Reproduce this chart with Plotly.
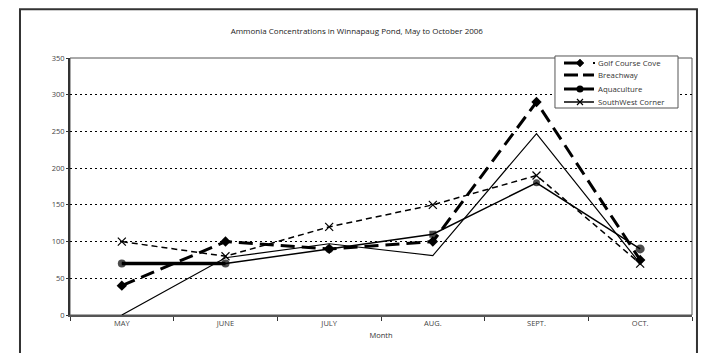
import plotly.graph_objects as go

months = ["MAY", "JUNE", "JULY", "AUG.", "SEPT.", "OCT."]
golf_course_cove = [40, 100, 90, 100, 290, 75]
breachway = [0, 78, 97, 81, 247, 70]
aquaculture = [70, 70, 90, 110, 180, 90]
southwest_corner = [100, 80, 120, 150, 190, 70]
y_ticks = [0, 50, 100, 150, 200, 250, 300, 350]
legend_names = ["Golf Course Cove", "Breachway", "Aquaculture", "SouthWest Corner"]

FONT = "Open Sans, Liberation Sans, Arial"
fig = go.Figure()

# chart traces
fig.add_trace(go.Scatter(x=months, y=southwest_corner, mode="lines+markers",
                         line=dict(color="black", width=1.5, dash="6px,4px"),
                         marker=dict(symbol="x-thin", size=8, line=dict(width=1.2, color="black")),
                         showlegend=False, cliponaxis=False))
fig.add_trace(go.Scatter(x=months, y=breachway, mode="lines",
                         line=dict(color="black", width=1.2),
                         showlegend=False, cliponaxis=False))
fig.add_trace(go.Scatter(x=months[:2], y=aquaculture[:2], mode="lines",
                         line=dict(color="black", width=3.5),
                         showlegend=False, cliponaxis=False))
fig.add_trace(go.Scatter(x=months, y=aquaculture, mode="lines+markers",
                         line=dict(color="black", width=1.5),
                         marker=dict(symbol=["circle", "circle", "circle", "square", "circle", "circle"],
                                     size=[8, 8, 8, 7, 7, 9], color="black",
                                     line=dict(width=0)),
                         showlegend=False, cliponaxis=False))
fig.add_trace(go.Scatter(x=months, y=golf_course_cove, mode="lines+markers",
                         line=dict(color="black", width=3, dash="14px,7px"),
                         marker=dict(symbol="diamond", size=8, color="black"),
                         showlegend=False, cliponaxis=False))

# frames (body has 8px default margin; geometry compensates)
fig.add_shape(type="rect", xref="paper", yref="paper", x0=-0.0804, x1=1.008, y0=-0.3, y1=1.19,
              line=dict(color="#333333", width=2), layer="below")
fig.add_shape(type="rect", xref="paper", yref="paper", x0=0, x1=1, y0=0, y1=1,
              line=dict(color="#555555", width=1), layer="below")

# manual legend
fig.add_shape(type="rect", xref="paper", yref="paper", x0=0.7797, x1=0.9775, y0=0.8054, y1=1.0078,
              line=dict(color="#555555", width=1), fillcolor="white", layer="above")
ly = [0.9805, 0.9339, 0.8794, 0.8288]
gx0, gx1, gm = 0.7942, 0.8424, 0.8199
# Golf Course Cove: thick line + diamond
fig.add_shape(type="line", xref="paper", yref="paper", x0=gx0, x1=gm, y0=ly[0], y1=ly[0],
              line=dict(color="black", width=3))
fig.add_shape(type="path", xref="paper", yref="paper", xsizemode="pixel", ysizemode="pixel",
              xanchor=gm, yanchor=ly[0], path="M0,4L4,0L0,-4L-4,0Z",
              fillcolor="black", line=dict(color="black", width=0.5))
fig.add_shape(type="rect", xref="paper", yref="paper", xsizemode="pixel", ysizemode="pixel",
              xanchor=0.8424, yanchor=ly[0], x0=-1, x1=1, y0=-1, y1=1,
              fillcolor="black", line=dict(color="black", width=0))
# Breachway: thick long dashes
fig.add_shape(type="line", xref="paper", yref="paper", x0=gx0, x1=0.8167, y0=ly[1], y1=ly[1],
              line=dict(color="black", width=3))
fig.add_shape(type="line", xref="paper", yref="paper", x0=0.8248, x1=gx1, y0=ly[1], y1=ly[1],
              line=dict(color="black", width=3))
# Aquaculture: thick line + circle
fig.add_shape(type="line", xref="paper", yref="paper", x0=gx0, x1=gx1, y0=ly[2], y1=ly[2],
              line=dict(color="black", width=3))
fig.add_shape(type="circle", xref="paper", yref="paper", xsizemode="pixel", ysizemode="pixel",
              xanchor=gm, yanchor=ly[2], x0=-3.5, x1=3.5, y0=-3.5, y1=3.5,
              fillcolor="black", line=dict(color="black", width=0))
# SouthWest Corner: thin line + x
fig.add_shape(type="line", xref="paper", yref="paper", x0=gx0, x1=gx1, y0=ly[3], y1=ly[3],
              line=dict(color="black", width=1.5))
fig.add_shape(type="path", xref="paper", yref="paper", xsizemode="pixel", ysizemode="pixel",
              xanchor=gm, yanchor=ly[3], path="M-3,-3L3,3M-3,3L3,-3",
              line=dict(color="black", width=1.2))
for name, yy in zip(legend_names, ly):
    fig.add_annotation(x=0.8457, y=yy, xref="paper", yref="paper", text=name, showarrow=False,
                       xanchor="left", yanchor="middle", font=dict(family=FONT, size=7.8, color="#333333"))

fig.update_layout(
    width=699, height=345,
    margin=dict(l=62, r=15, t=50, b=38),
    paper_bgcolor="white", plot_bgcolor="white",
    showlegend=False,
    font=dict(family=FONT, size=7, color="#333333"),
    title=dict(text="Ammonia Concentrations in Winnapaug Pond, May to October 2006",
               x=0.499, xanchor="center", y=1 - 23 / 345, yanchor="middle",
               font=dict(family=FONT, size=8, color="#222222")),
    xaxis=dict(type="category", tickson="boundaries", ticks="outside", ticklen=4,
               tickcolor="#333333", showline=True, linecolor="#555555", linewidth=2,
               showgrid=False, range=[-0.5, 5.5],
               title=dict(text="Month", font=dict(size=7.5, color="#333333"), standoff=6),
               tickfont=dict(size=7.5, color="#444444")),
    yaxis=dict(range=[0, 350], tickvals=y_ticks, ticks="outside", ticklen=2,
               tickcolor="#333333", showline=True, linecolor="#333333", linewidth=2,
               showgrid=True, gridcolor="black", griddash="2px,3px", gridwidth=1,
               zeroline=False, tickfont=dict(size=7.5, color="#444444")),
)

fig.write_html("out.html")
